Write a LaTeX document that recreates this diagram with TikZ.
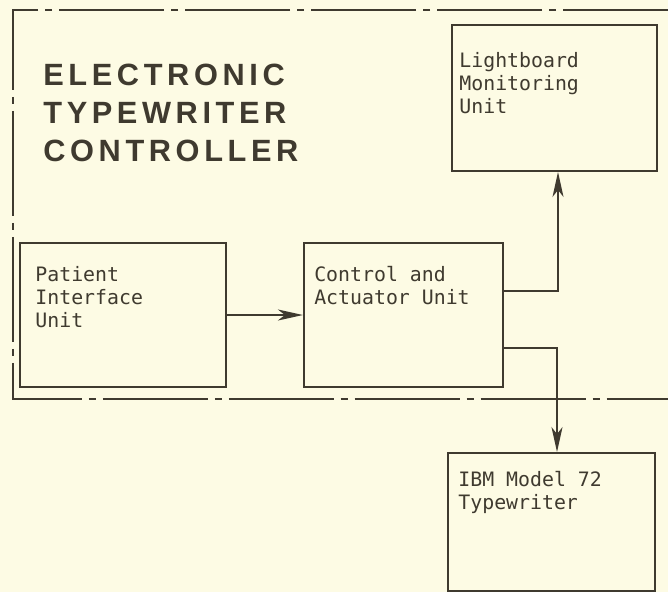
\documentclass[tikz,border=0pt]{standalone}
\usepackage{fontspec}
\setmainfont{Liberation Sans}
\newfontfamily\headfont[LetterSpace=15]{Liberation Sans}
\newfontfamily\unitfont{DejaVu Sans Mono}
\usetikzlibrary{arrows.meta,positioning,calc}
\definecolor{ink}{HTML}{3F3A2F}
\definecolor{paper}{HTML}{FDFBE4}

\begin{document}
\begin{tikzpicture}[
  x=0.02cm, y=-0.02cm,
  >={Stealth[length=0.5cm,width=0.22cm,inset=0.14cm]},
  unit/.style={draw=ink, line width=1.1pt, inner sep=0pt},
  unittext/.style={anchor=north west, inner sep=0pt, align=left, text=ink,
                   font=\unitfont\fontsize{11.3}{13}\selectfont},
  heading/.style={anchor=north west, inner sep=0pt, align=left, text=ink,
                  font=\headfont\bfseries\fontsize{17.5}{21.6}\selectfont},
  arr/.style={->, draw=ink, line width=1pt},
  bound/.style={draw=ink, line width=1pt,
                dash pattern=on 2.1cm off 0.14cm on 0.14cm off 0.14cm},
]
\fill[paper] (0,0) rectangle (668,592);
\useasboundingbox (0,0) rectangle (668,592);

%% --- controller boundary (open to the right) ---
\draw[bound] (668,10) -- (13,10) -- (13,399) -- (668,399);

\node[heading] (head) at (43,64) {ELECTRONIC\\TYPEWRITER\\CONTROLLER};

%% --- units ---
\node[unit, minimum width=4.12cm, minimum height=2.88cm] (pat) at (123,315) {};
\node[unit, minimum width=3.98cm, minimum height=2.88cm, right=1.52cm of pat] (ctrl) {};
\node[unit, minimum width=4.1cm, minimum height=2.92cm] (light) at (554.5,98) {};
\node[unit, minimum width=4.14cm, minimum height=2.76cm] (ibm) at (551.5,522) {};

\node[unittext] (pattxt)   at ([shift={(16,24)}]pat.north west)   {Patient\\Interface\\Unit};
\node[unittext] (ctrltxt)  at ([shift={(11,24)}]ctrl.north west)  {Control and\\Actuator Unit};
\node[unittext] (lighttxt) at ([shift={(8,28)}]light.north west)  {Lightboard\\Monitoring\\Unit};
\node[unittext] (ibmtxt)   at ([shift={(11,19)}]ibm.north west)   {IBM Model 72\\Typewriter};

%% --- signal paths ---
\draw[arr] (pat) -- (ctrl);
\draw[arr] ([yshift=0.48cm]ctrl.east) -| ([xshift=0.07cm]light.south);
\draw[arr] ([yshift=-0.66cm]ctrl.east) -| ([xshift=0.11cm]ibm.north);

\end{tikzpicture}
\end{document}
